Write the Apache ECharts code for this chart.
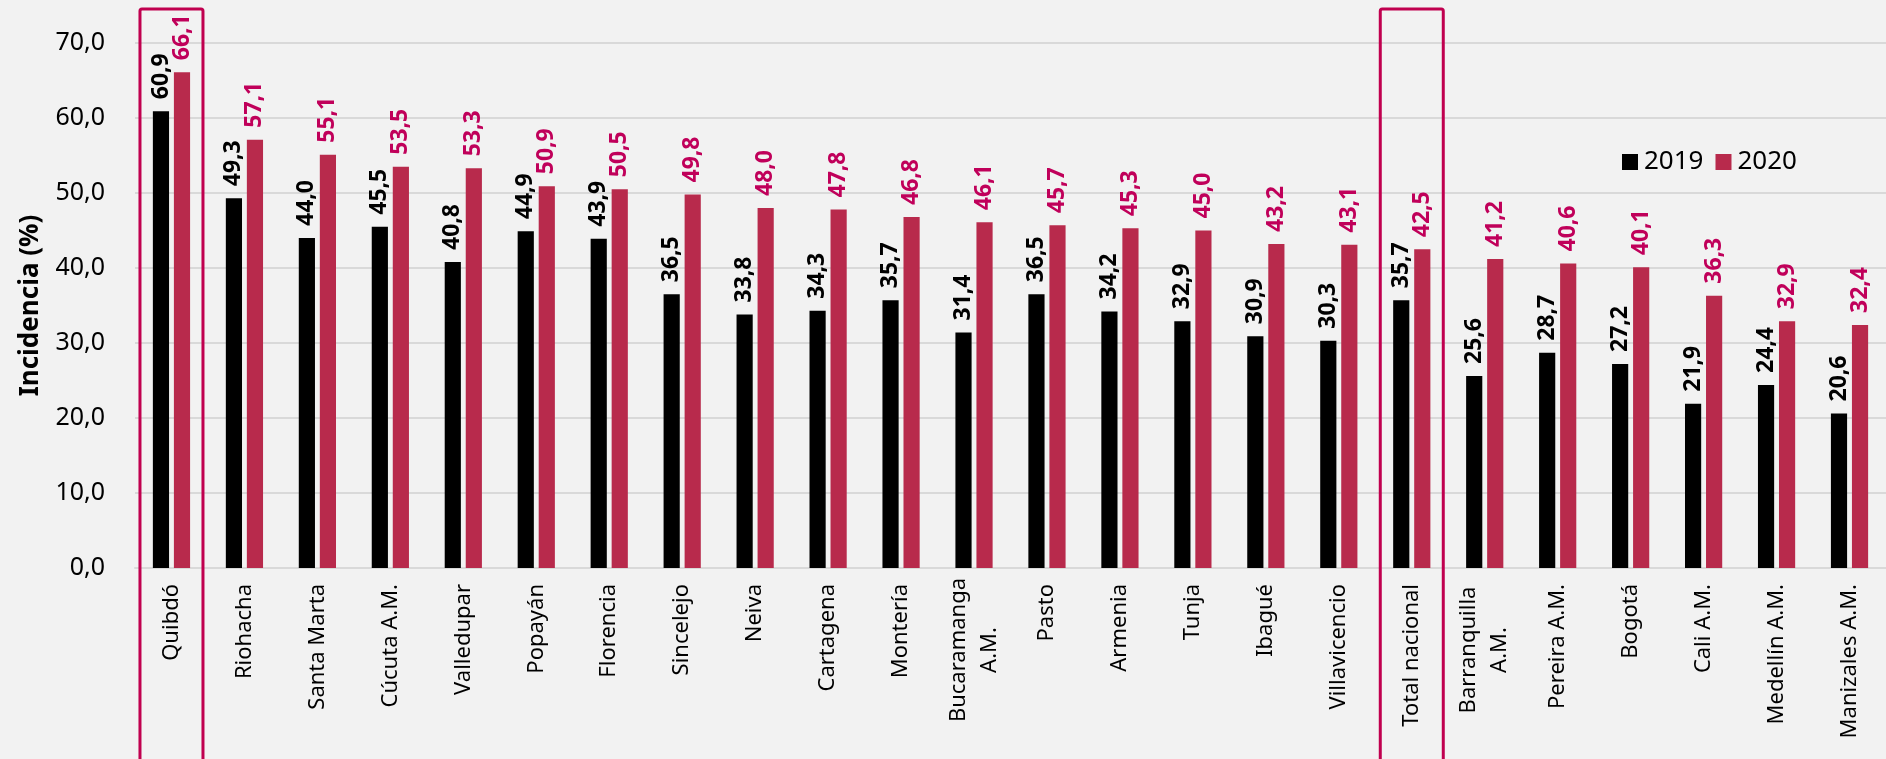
<!DOCTYPE html>
<html>
<head>
<meta charset="utf-8">
<script src="https://cdn.jsdelivr.net/npm/echarts@6/dist/echarts.min.js"></script>
<style>
html,body{margin:0;padding:0;background:#F2F2F2;}
#chart{width:1886px;height:759px;}
</style>
</head>
<body>
<div id="chart"></div>
<script>
const categories = ['Quibdó','Riohacha','Santa Marta','Cúcuta A.M.','Valledupar','Popayán','Florencia','Sincelejo','Neiva','Cartagena','Montería','Bucaramanga\nA.M.','Pasto','Armenia','Tunja','Ibagué','Villavicencio','Total nacional','Barranquilla\nA.M.','Pereira A.M.','Bogotá','Cali A.M.','Medellín A.M.','Manizales A.M.'];
const values2019 = [60.9,49.3,44.0,45.5,40.8,44.9,43.9,36.5,33.8,34.3,35.7,31.4,36.5,34.2,32.9,30.9,30.3,35.7,25.6,28.7,27.2,21.9,24.4,20.6];
const values2020 = [66.1,57.1,55.1,53.5,53.3,50.9,50.5,49.8,48.0,47.8,46.8,46.1,45.7,45.3,45.0,43.2,43.1,42.5,41.2,40.6,40.1,36.3,32.9,32.4];
const yTicks = [0,10,20,30,40,50,60,70];
const highlighted = ['Quibdó','Total nacional'];

const FONT = 'Noto Sans';
const fmt = v => Number(v).toFixed(1).replace('.', ',');

const chart = echarts.init(document.getElementById('chart'), null, {renderer:'canvas'});
const option = {
  backgroundColor:'#F2F2F2',
  animation:false,
  textStyle:{fontFamily:FONT},
  grid:{left:135, right:-5, top:43, bottom:191, containLabel:false},
  legend:{
    data:['2019','2020'], left:1617, top:144, itemWidth:16, itemHeight:16, itemGap:12,
    icon:'rect',
    textStyle:{fontFamily:FONT, fontSize:26, color:'#000', padding:[0,0,0,1]}
  },
  xAxis:{
    type:'category', data:categories,
    axisLine:{show:true, lineStyle:{color:'#D9D9D9', width:2}},
    axisTick:{show:false},
    axisLabel:{
      rotate:90, interval:0, margin:16, fontFamily:FONT, fontSize:22, color:'#000',
      formatter:function(v){
        if(v.indexOf('\n')>=0){
          const p=v.split('\n');
          return '{c|'+p[0]+'}\n{c|'+p[1]+'}';
        }
        return v;
      },
      rich:{c:{width:132, align:'center', fontFamily:FONT, fontSize:22, color:'#000', lineHeight:31}}
    }
  },
  yAxis:{
    type:'value', min:yTicks[0], max:yTicks[yTicks.length-1], interval:10,
    name:'Incidencia (%)', nameLocation:'middle', nameGap:91,
    nameTextStyle:{fontFamily:FONT, fontSize:26, fontWeight:'bold', color:'#000'},
    axisLine:{show:false}, axisTick:{show:false},
    axisLabel:{fontFamily:FONT, fontSize:25, color:'#000', margin:30, formatter:fmt},
    splitLine:{lineStyle:{color:'#D9D9D9', width:2}}
  },
  series:[
    {
      name:'2019', type:'bar', data:values2019, barGap:'30%', barCategoryGap:'49%',
      itemStyle:{color:'#000000'},
      label:{show:true, position:'top', rotate:90, align:'left', verticalAlign:'middle', distance:12,
        fontFamily:FONT, fontSize:23, fontWeight:'bold', color:'#000', formatter:p=>fmt(p.value)}
    },
    {
      name:'2020', type:'bar', data:values2020,
      itemStyle:{color:'#B82A4C'},
      label:{show:true, position:'top', rotate:90, align:'left', verticalAlign:'middle', distance:12,
        fontFamily:FONT, fontSize:23, fontWeight:'bold', color:'#C0005A', formatter:p=>fmt(p.value)}
    }
  ]
};
chart.setOption(option);

const rects = highlighted.map(function(name){
  const cx = chart.convertToPixel({xAxisIndex:0}, name);
  return {
    type:'rect', z:100,
    shape:{x:cx-31.5, y:9, width:63, height:760, r:2},
    style:{fill:'none', stroke:'#C0004F', lineWidth:3}
  };
});
chart.setOption({graphic:{elements:rects}});
</script>
</body>
</html>
